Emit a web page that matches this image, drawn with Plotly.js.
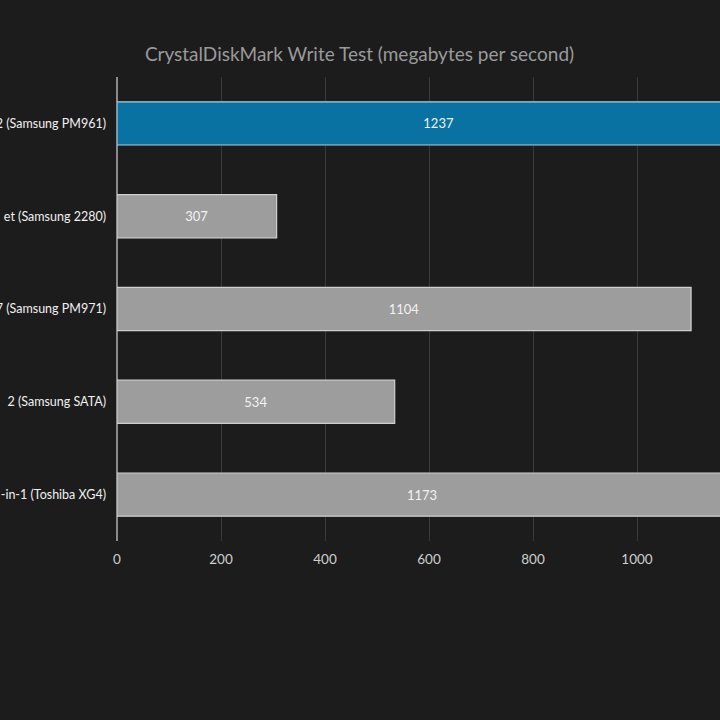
<!DOCTYPE html>
<html><head><meta charset="utf-8">
<script src="https://cdn.plot.ly/plotly-3.0.1.min.js"></script>
<style>html,body{margin:0;padding:0;background:#1c1c1c;overflow:hidden;width:720px;height:720px}#chart{width:813px;height:720px}</style>
</head><body><div id="chart"></div>
<script>
const categories = ["2 (Samsung PM961)", "et (Samsung 2280)", "7 (Samsung PM971)", "2 (Samsung SATA)", "-in-1 (Toshiba XG4)"];
const values = [1237, 307, 1104, 534, 1173];
const barColors = ["#0a71a3", "#9d9d9d", "#9d9d9d", "#9d9d9d", "#9d9d9d"];
const lineColors = ["#a9cfe3", "#cfcfcf", "#cfcfcf", "#cfcfcf", "#cfcfcf"];
const xTicks = [0, 200, 400, 600, 800, 1000];

const W = 813;
Plotly.newPlot('chart', [{
  type: 'bar', orientation: 'h',
  x: values, y: categories,
  text: values.map(String), textposition: 'inside', insidetextanchor: 'middle',
  textfont: {family: 'Lato, sans-serif', size: 13, color: '#f2f2f2'},
  marker: {color: barColors, line: {color: lineColors, width: 1.2}},
  width: 0.465, hoverinfo: 'none'
}], {
  width: W, height: 720,
  paper_bgcolor: '#1c1c1c', plot_bgcolor: '#1c1c1c',
  margin: {l: 117, r: 20, t: 77, b: 179},
  title: {text: 'CrystalDiskMark Write Test (megabytes per second)', x: 359.5 / W, xanchor: 'center', y: 1 - 54 / 720, yanchor: 'middle',
    font: {family: 'Lato, sans-serif', size: 19, color: '#9a9a9a'}},
  xaxis: {range: [0, 1300], tickvals: xTicks, ticktext: xTicks.map(String),
    showgrid: true, gridcolor: '#383838', gridwidth: 1, zeroline: true, zerolinecolor: '#8a8a8a', zerolinewidth: 1.5,
    showline: false, ticks: '', ticklabelstandoff: 8,
    tickfont: {family: 'Lato, sans-serif', size: 13.5, color: '#cfcfcf'}},
  yaxis: {autorange: 'reversed', showgrid: false, zeroline: false, showline: false, ticks: '',
    ticklabelstandoff: 10,
    tickfont: {family: 'Lato, sans-serif', size: 12.5, color: '#f0f0f0'}},
  showlegend: false
}, {displayModeBar: false, staticPlot: true});
</script></body></html>
